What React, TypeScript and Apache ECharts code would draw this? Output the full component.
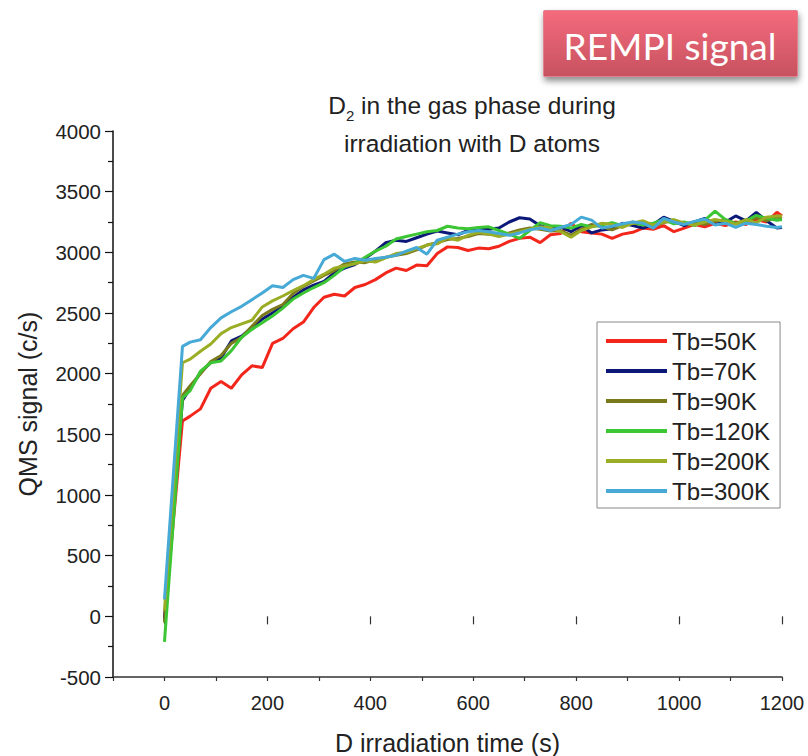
import React, { useEffect, useRef } from "react";
import * as echarts from "echarts";

const T = [0, 35, 50, 70, 90, 110, 130, 150, 170, 190, 210, 230, 250, 270, 290, 310, 330, 350, 370, 390, 410, 430, 450, 470, 490, 510, 530, 550, 570, 590, 610, 630, 650, 670, 690, 710, 730, 750, 770, 790, 810, 830, 850, 870, 890, 910, 930, 950, 970, 990, 1010, 1030, 1050, 1070, 1090, 1110, 1130, 1150, 1170, 1190, 1200];

const tb50 = [-20, 1610, 1650, 1710, 1880, 1935, 1880, 1990, 2065, 2050, 2250, 2290, 2370, 2425, 2545, 2630, 2655, 2640, 2710, 2735, 2775, 2830, 2870, 2850, 2895, 2890, 2990, 3045, 3040, 3015, 3035, 3030, 3050, 3090, 3115, 3125, 3080, 3145, 3155, 3240, 3170, 3160, 3150, 3115, 3150, 3165, 3200, 3190, 3220, 3170, 3200, 3230, 3210, 3240, 3220, 3250, 3230, 3270, 3250, 3330, 3300];
const tb70 = [-30, 1780, 1880, 2010, 2090, 2130, 2270, 2310, 2380, 2450, 2500, 2555, 2630, 2690, 2730, 2760, 2830, 2870, 2900, 2950, 3010, 3080, 3100, 3090, 3120, 3150, 3175, 3160, 3145, 3180, 3200, 3190, 3200, 3250, 3285, 3275, 3220, 3195, 3210, 3170, 3220, 3160, 3185, 3195, 3240, 3220, 3200, 3230, 3290, 3255, 3220, 3250, 3280, 3230, 3250, 3300, 3260, 3330, 3260, 3200, 3205];
const tb90 = [-50, 1820, 1900, 2000, 2100, 2150, 2250, 2300, 2390, 2480, 2530, 2570, 2660, 2720, 2765, 2810, 2850, 2905, 2920, 2915, 2940, 2960, 2975, 2990, 3020, 3060, 3080, 3105, 3115, 3130, 3155, 3150, 3140, 3160, 3185, 3200, 3190, 3175, 3180, 3140, 3190, 3230, 3210, 3185, 3220, 3240, 3230, 3215, 3245, 3260, 3235, 3250, 3230, 3255, 3270, 3240, 3265, 3285, 3260, 3290, 3280];
const tb120 = [-210, 1800, 1860, 2020, 2090, 2105, 2190, 2300, 2365, 2420, 2475, 2540, 2615, 2665, 2710, 2750, 2810, 2880, 2910, 2960, 3010, 3050, 3110, 3130, 3150, 3170, 3180, 3215, 3200, 3195, 3205, 3210, 3180, 3150, 3115, 3180, 3245, 3220, 3215, 3200, 3230, 3210, 3225, 3245, 3220, 3250, 3225, 3240, 3270, 3235, 3250, 3220, 3265, 3340, 3270, 3235, 3260, 3305, 3280, 3265, 3270];
const tb200 = [50, 2090, 2120, 2185, 2245, 2330, 2380, 2410, 2440, 2550, 2600, 2640, 2685, 2725, 2775, 2820, 2870, 2890, 2905, 2930, 2920, 2955, 2990, 3000, 3030, 3060, 3070, 3120, 3100, 3140, 3165, 3150, 3130, 3150, 3170, 3190, 3210, 3200, 3170, 3125, 3180, 3210, 3240, 3230, 3205, 3240, 3260, 3225, 3250, 3270, 3240, 3225, 3250, 3270, 3255, 3230, 3270, 3245, 3290, 3300, 3300];
const tb300 = [140, 2225, 2260, 2280, 2380, 2460, 2510, 2555, 2610, 2665, 2725, 2710, 2775, 2810, 2785, 2940, 2985, 2925, 2950, 2935, 2950, 2960, 2975, 3010, 3040, 2985, 3100, 3125, 3150, 3170, 3180, 3170, 3155, 3140, 3160, 3185, 3200, 3180, 3205, 3230, 3290, 3265, 3200, 3215, 3235, 3250, 3240, 3200, 3280, 3250, 3230, 3255, 3275, 3225, 3240, 3205, 3240, 3230, 3215, 3205, 3210];

const seriesNames = ["Tb=50K", "Tb=70K", "Tb=90K", "Tb=120K", "Tb=200K", "Tb=300K"];
const seriesValues = [tb50, tb70, tb90, tb120, tb200, tb300];
const seriesColors = ["#f3261c", "#0c1878", "#7a7a1c", "#3cc634", "#9bad24", "#46a9d6"];

const yTicks = { min: -500, max: 4000, interval: 500 };
const xTicks = { min: 0, max: 1200, interval: 200 };
const xFullMin = -100;

const FONT = "'Liberation Sans', Arial, sans-serif";

export default function App() {
  const ref = useRef<HTMLDivElement>(null);
  useEffect(() => {
    if (!ref.current) return;
    const chart = echarts.init(ref.current, undefined, { renderer: "svg" });
    const gLeft = 113;
    const gRight = 26;
    const gTop = 131;
    const gBottom = 79;
    const plotW = 808 - gLeft - gRight;
    const offset = ((xTicks.min - xFullMin) / (xTicks.max - xFullMin)) * plotW;
    const plain = (v: number) => String(v);

    chart.setOption({
      animation: false,
      backgroundColor: "#ffffff",
      textStyle: { fontFamily: FONT },
      grid: [
        { left: gLeft, right: gRight, top: gTop, bottom: gBottom, outerBoundsMode: "none" },
        { left: gLeft + offset, right: gRight, top: gTop, bottom: gBottom, outerBoundsMode: "none" },
      ],
      xAxis: [
        {
          type: "value",
          gridIndex: 0,
          min: xFullMin,
          max: xTicks.max,
          interval: 100,
          name: "D irradiation time (s)",
          nameLocation: "middle",
          nameGap: 53,
          nameTextStyle: { fontSize: 25, color: "#222", fontFamily: FONT },
          axisLine: { show: true, onZero: false, lineStyle: { color: "#333", width: 1.5 } },
          axisTick: { show: true, inside: false, length: 4, lineStyle: { color: "#333", width: 1.2 } },
          axisLabel: { show: false },
          splitLine: { show: false },
        },
        {
          type: "value",
          gridIndex: 1,
          min: xTicks.min,
          max: xTicks.max,
          interval: xTicks.interval,
          axisLine: { show: false },
          axisTick: { show: true, inside: false, length: 8, lineStyle: { color: "#333", width: 1.2 } },
          axisLabel: { show: true, margin: 16, fontSize: 20, color: "#222", fontFamily: FONT, formatter: plain },
          splitLine: { show: false },
        },
      ],
      yAxis: [
        {
          type: "value",
          gridIndex: 0,
          min: yTicks.min,
          max: yTicks.max,
          interval: yTicks.interval,
          name: "QMS signal (c/s)",
          nameLocation: "middle",
          nameRotate: 90,
          nameGap: 73,
          nameTextStyle: { fontSize: 25, color: "#222", fontFamily: FONT },
          axisLine: { show: true, onZero: false, lineStyle: { color: "#111", width: 1.5 } },
          axisTick: { show: true, inside: false, length: 8, lineStyle: { color: "#111", width: 1.2 } },
          minorTick: { show: true, splitNumber: 2, length: 5, lineStyle: { color: "#111", width: 1.2 } },
          axisLabel: { show: true, margin: 12, fontSize: 20.5, color: "#222", fontFamily: FONT, formatter: plain },
          splitLine: { show: false },
          minorSplitLine: { show: false },
        },
        {
          type: "value",
          gridIndex: 1,
          min: yTicks.min,
          max: yTicks.max,
          show: false,
        },
      ],
      legend: {
        show: true,
        orient: "vertical",
        left: 597,
        top: 322,
        width: 186,
        icon: "rect",
        itemWidth: 61,
        itemHeight: 4,
        itemGap: 0,
        padding: [4, 10, 2, 9],
        borderColor: "#888",
        borderWidth: 1,
        backgroundColor: "#fff",
        textStyle: { fontSize: 24, color: "#222", fontFamily: FONT, lineHeight: 30 },
        data: seriesNames,
      },
      series: seriesNames.map((name, i) => ({
        name,
        type: "line",
        xAxisIndex: 0,
        yAxisIndex: 0,
        showSymbol: false,
        symbol: "none",
        lineStyle: { width: 3, color: seriesColors[i] },
        itemStyle: { color: seriesColors[i] },
        data: T.map((t, k) => [t, seriesValues[i][k]]),
      })),
      graphic: [
        {
          type: "rect",
          left: 543,
          top: 10,
          shape: { width: 254, height: 66, r: 1 },
          style: {
            fill: new echarts.graphic.LinearGradient(0, 0, 0, 1, [
              { offset: 0, color: "#f46b7c" },
              { offset: 1, color: "#c75260" },
            ]),
            stroke: "#e2818d",
            lineWidth: 1,
            shadowBlur: 6,
            shadowOffsetX: 1,
            shadowOffsetY: 4,
            shadowColor: "rgba(0,0,0,0.45)",
          },
          z: 10,
        },
        {
          type: "text",
          x: 670,
          y: 45,
          style: {
            text: "REMPI signal",
            fill: "#ffffff",
            font: "37px Lato, 'Open Sans', sans-serif",
            align: "center",
            verticalAlign: "middle",
          },
          z: 11,
        },
        {
          type: "text",
          x: 472,
          y: 105,
          style: {
            text: "{a|D}{s|2}{a| in the gas phase during}",
            align: "center",
            verticalAlign: "middle",
            rich: {
              a: { fontSize: 24.5, fontFamily: FONT, fill: "#222", color: "#222", lineHeight: 35 },
              s: { fontSize: 15, fontFamily: FONT, fill: "#222", color: "#222", lineHeight: 15, verticalAlign: "bottom" },
            },
          },
          z: 5,
        },
        {
          type: "text",
          x: 472,
          y: 143,
          style: {
            text: "irradiation with D atoms",
            fill: "#222",
            font: `24.5px ${FONT}`,
            align: "center",
            verticalAlign: "middle",
          },
          z: 5,
        },
      ],
    });
    return () => chart.dispose();
  }, []);
  return <div ref={ref} style={{ position: "absolute", left: 0, top: 0, width: 808, height: 756 }} />;
}
